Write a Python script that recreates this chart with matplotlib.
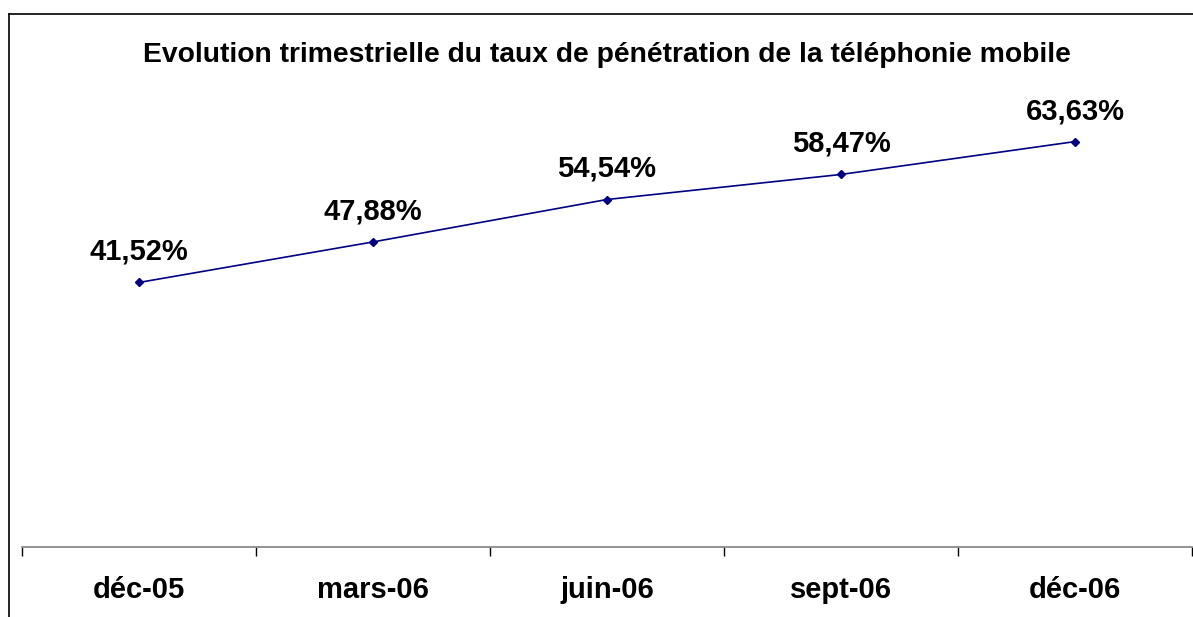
import matplotlib.pyplot as plt
from matplotlib.lines import Line2D

# data
periods = ['déc-05', 'mars-06', 'juin-06', 'sept-06', 'déc-06']
taux = [41.52, 47.88, 54.54, 58.47, 63.63]
labels = ['41,52%', '47,88%', '54,54%', '58,47%', '63,63%']

plt.rcParams['font.family'] = ['Liberation Sans', 'DejaVu Sans']

W, H = 1193, 617
fig = plt.figure(figsize=(W / 100, H / 100), dpi=100)

# chart area frame (right and bottom edges fall outside the crop)
fig.add_artist(Line2D([9 / W, 1], [1 - 14 / H, 1 - 14 / H], color='black', lw=1.2))
fig.add_artist(Line2D([9 / W, 9 / W], [0, 1 - 14 / H], color='black', lw=1.2))

ax = fig.add_axes([22 / W, 1 - 547 / H, (1192 - 22) / W, (547 - 101) / H])
x = list(range(len(periods)))
ax.plot(x, taux, color='#000080', lw=1.2, marker='D', markersize=4.5)
for xi, yi, lab in zip(x, taux, labels):
    ax.annotate(lab, (xi, yi), xytext=(0, 22), textcoords='offset points',
                ha='center', va='center', fontsize=21, fontweight='bold')

ax.set_xlim(-0.5, len(periods) - 0.5)
ax.set_ylim(0, 70)
for s in ['top', 'right', 'left']:
    ax.spines[s].set_visible(False)
ax.spines['bottom'].set_color('#808080')
ax.spines['bottom'].set_linewidth(1.2)
ax.set_yticks([])

ax.set_xticks([i + 0.5 for i in range(-1, len(periods))])
ax.set_xticklabels([])
ax.tick_params(axis='x', direction='out', length=6.5, color='black', width=1)
ax.set_xticks(x, minor=True)
ax.set_xticklabels(periods, minor=True, fontsize=21, fontweight='bold')
ax.tick_params(axis='x', which='minor', length=0, pad=21)

fig.text(607 / W, 1 - 55 / H, 'Evolution trimestrielle du taux de pénétration de la téléphonie mobile',
         ha='center', va='center', fontsize=20.3, fontweight='bold')

fig.savefig('out.png', dpi=100)
